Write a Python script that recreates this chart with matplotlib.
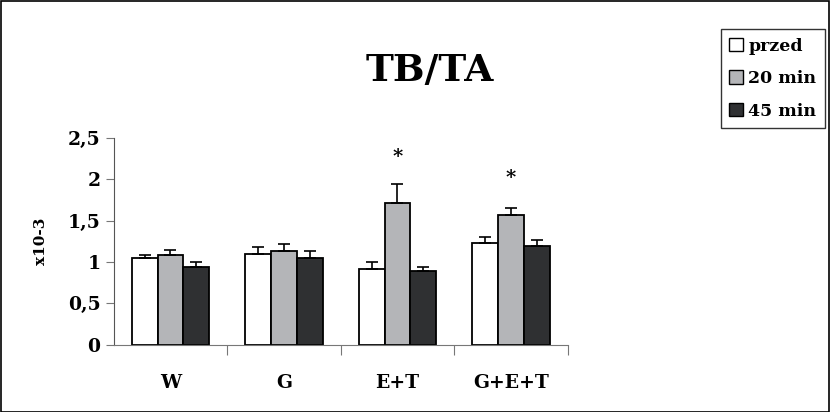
import matplotlib
matplotlib.use("Agg")
import matplotlib.pyplot as plt
import numpy as np

groups = ["W", "G", "E+T", "G+E+T"]
series = ["przed", "20 min", "45 min"]
przed = [1.05, 1.10, 0.915, 1.235]
min20 = [1.08, 1.135, 1.72, 1.57]
min45 = [0.945, 1.045, 0.895, 1.20]
err_przed = [0.035, 0.08, 0.085, 0.07]
err_20 = [0.07, 0.085, 0.22, 0.085]
err_45 = [0.055, 0.09, 0.05, 0.07]
stars = {2: 2.27, 3: 2.02}

colors = ["#ffffff", "#b4b5b8", "#2f3032"]
plt.rcParams['font.family'] = ['DejaVu Serif']

fig = plt.figure(figsize=(8.3, 4.12), dpi=100)
ax = fig.add_axes([0.137, 0.163, 0.547, 0.502])

x = np.arange(len(groups))
w = 0.227
vals = [przed, min20, min45]
errs = [err_przed, err_20, err_45]
handles = []
for i in range(3):
    pos = x + (i - 1) * w
    b = ax.bar(pos, vals[i], w, color=colors[i], edgecolor="black", linewidth=1.3,
               yerr=[np.zeros(4), errs[i]], capsize=4,
               error_kw=dict(elinewidth=1.2, capthick=1.2, ecolor="black"),
               label=series[i])
    handles.append(b)

for k, yv in stars.items():
    ax.text(x[k], yv, "*", ha="center", va="center", fontsize=14, fontweight="bold")

ax.set_xlim(-0.5, 3.5)
ax.set_ylim(0, 2.5)
ax.set_yticks([0, 0.5, 1, 1.5, 2, 2.5])
ax.set_yticklabels(["0", "0,5", "1", "1,5", "2", "2,5"], fontsize=13.5, fontweight="bold")
ax.set_xticks([0.5, 1.5, 2.5, 3.5])
ax.set_xticklabels([])
ax.tick_params(axis="x", length=7, color="#777777")
ax.tick_params(axis="y", length=6, color="#777777")
for g, xi in zip(groups, x):
    ax.text(xi, -0.46, g, ha="center", va="center", fontsize=13.5, fontweight="bold",
            transform=ax.transData)
ax.spines["top"].set_visible(False)
ax.spines["right"].set_visible(False)
ax.spines["left"].set_color("#555555")
ax.spines["bottom"].set_color("#777777")
ax.set_ylabel("x10-3", fontsize=11, fontweight="bold", labelpad=14)

fig.text(0.518, 0.83, "TB/TA", ha="center", va="center", fontsize=27, fontweight="bold")

leg = fig.legend(handles=handles, labels=series, loc="upper right",
                 bbox_to_anchor=(0.994, 0.93), frameon=True, fancybox=False,
                 edgecolor="black", prop=dict(size=12.5, weight="bold"),
                 handlelength=0.8, handleheight=0.8, handletextpad=0.3,
                 borderpad=0.5, labelspacing=0.9, borderaxespad=0.0)
leg.get_frame().set_linewidth(1.0)
for h in leg.legend_handles:
    h.set_linewidth(1.0)

fig.patches.append(plt.Rectangle((0.001, 0.001), 0.998, 0.997, transform=fig.transFigure,
                                 fill=False, edgecolor="black", linewidth=1.2))

fig.savefig("out.png", dpi=100)
